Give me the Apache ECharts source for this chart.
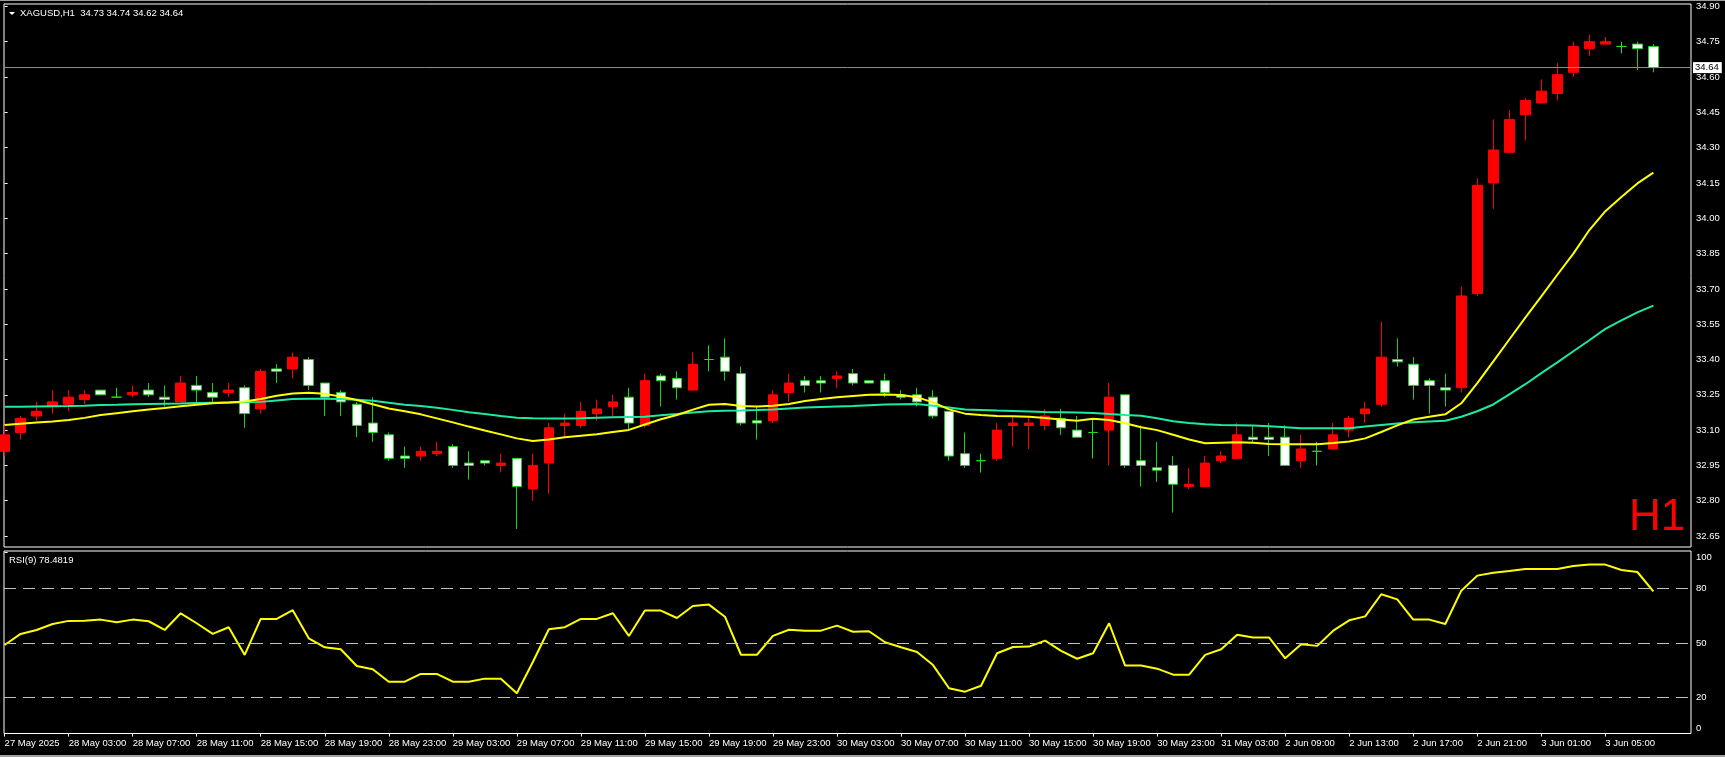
<!DOCTYPE html>
<html><head><meta charset="utf-8">
<script src="https://cdn.jsdelivr.net/npm/echarts@6/dist/echarts.min.js"></script>
<style>html,body{margin:0;padding:0;background:#000;overflow:hidden}#c{width:1725px;height:757px}</style>
</head><body><div id="c"></div>
<script>
// ---- data (bar index 0..103, H1 bars) ----
const opens = [33.01,33.09,33.16,33.20,33.21,33.23,33.27,33.24,33.25,33.27,
 33.24,33.22,33.29,33.26,33.26,33.28,33.19,33.36,33.36,33.40,
 33.30,33.26,33.21,33.13,33.08,32.99,32.99,33.00,33.03,32.96,
 32.97,32.95,32.98,32.85,32.96,33.12,33.12,33.17,33.20,33.24,
 33.12,33.33,33.32,33.27,33.40,33.41,33.34,33.14,33.14,33.26,
 33.31,33.31,33.32,33.34,33.31,33.31,33.25,33.25,33.24,33.18,
 33.00,32.97,32.98,33.12,33.12,33.12,33.15,33.10,33.09,33.10,
 33.25,32.97,32.94,32.95,32.86,32.86,32.97,32.98,33.07,33.07,
 33.07,32.97,33.01,33.02,33.10,33.17,33.21,33.40,33.38,33.31,
 33.28,33.28,33.68,34.15,34.28,34.44,34.49,34.53,34.62,34.72,
 34.74,34.73,34.74,34.73];
const closes = [33.08,33.15,33.18,33.22,33.24,33.25,33.25,33.24,33.26,33.25,
 33.23,33.30,33.27,33.24,33.27,33.17,33.35,33.35,33.41,33.29,
 33.24,33.22,33.12,33.09,32.98,32.98,33.01,33.01,32.95,32.95,
 32.96,32.96,32.86,32.95,33.11,33.13,33.18,33.19,33.22,33.13,
 33.31,33.31,33.28,33.38,33.40,33.35,33.13,33.13,33.25,33.30,
 33.29,33.30,33.33,33.30,33.30,33.26,33.24,33.22,33.16,32.99,
 32.95,32.97,33.10,33.13,33.13,33.16,33.11,33.07,33.09,33.24,
 32.95,32.95,32.93,32.87,32.87,32.96,32.99,33.08,33.06,33.06,
 32.95,33.02,33.01,33.08,33.15,33.19,33.41,33.39,33.29,33.29,
 33.27,33.67,34.14,34.29,34.42,34.50,34.54,34.61,34.73,34.75,
 34.75,34.73,34.72,34.64];
const lows = [32.99,33.06,33.14,33.17,33.18,33.21,33.25,33.24,33.24,33.24,
 33.20,33.22,33.21,33.22,33.24,33.11,33.17,33.30,33.32,33.27,
 33.16,33.16,33.07,33.05,32.97,32.94,32.97,32.99,32.94,32.89,
 32.95,32.92,32.68,32.80,32.83,33.07,33.11,33.14,33.16,33.10,
 33.11,33.20,33.23,33.27,33.35,33.31,33.12,33.06,33.13,33.22,
 33.26,33.26,33.28,33.29,33.30,33.24,33.23,33.20,33.15,32.97,
 32.94,32.92,32.97,33.03,33.02,33.10,33.08,33.07,32.98,32.95,
 32.94,32.86,32.88,32.75,32.85,32.86,32.96,32.98,33.05,32.99,
 32.95,32.94,32.95,33.02,33.07,33.13,33.20,33.37,33.23,33.17,
 33.20,33.26,33.67,34.04,34.28,34.33,34.49,34.50,34.60,34.69,
 34.74,34.70,34.63,34.62];
const highs = [33.12,33.16,33.22,33.27,33.27,33.27,33.27,33.28,33.29,33.30,
 33.29,33.33,33.33,33.30,33.30,33.29,33.36,33.38,33.43,33.41,
 33.30,33.27,33.22,33.24,33.09,33.03,33.03,33.05,33.04,33.01,
 32.97,33.00,32.98,33.00,33.13,33.17,33.22,33.23,33.25,33.28,
 33.34,33.34,33.35,33.43,33.46,33.49,33.37,33.20,33.27,33.34,
 33.33,33.33,33.35,33.36,33.31,33.34,33.27,33.28,33.27,33.18,
 33.09,33.00,33.13,33.16,33.16,33.19,33.19,33.16,33.15,33.30,
 33.25,33.12,33.05,32.99,32.94,32.99,33.01,33.13,33.12,33.13,
 33.12,33.08,33.05,33.13,33.16,33.22,33.56,33.49,33.41,33.32,
 33.34,33.71,34.17,34.42,34.46,34.51,34.59,34.66,34.75,34.78,
 34.77,34.75,34.75,34.74];
const maFast = [33.122,33.127,33.132,33.137,33.143,33.152,33.164,33.172,33.180,33.188,
 33.194,33.201,33.208,33.214,33.217,33.222,33.232,33.246,33.256,33.259,
 33.254,33.243,33.228,33.210,33.192,33.180,33.167,33.150,33.133,33.115,
 33.098,33.082,33.065,33.054,33.060,33.070,33.076,33.082,33.092,33.101,
 33.124,33.146,33.164,33.187,33.208,33.211,33.202,33.200,33.204,33.211,
 33.224,33.232,33.240,33.245,33.250,33.251,33.249,33.240,33.218,33.188,
 33.170,33.164,33.160,33.159,33.157,33.151,33.145,33.140,33.148,33.143,
 33.129,33.112,33.100,33.080,33.060,33.044,33.046,33.048,33.046,33.041,
 33.040,33.040,33.040,33.045,33.052,33.065,33.092,33.120,33.145,33.157,
 33.167,33.214,33.300,33.392,33.485,33.578,33.668,33.760,33.850,33.950,
 34.030,34.090,34.148,34.194];
const maSlow = [33.199,33.199,33.200,33.201,33.202,33.204,33.207,33.208,33.210,33.211,
 33.212,33.213,33.215,33.216,33.217,33.218,33.220,33.226,33.232,33.233,
 33.233,33.232,33.229,33.225,33.216,33.208,33.202,33.195,33.186,33.176,
 33.168,33.160,33.153,33.150,33.149,33.149,33.150,33.153,33.155,33.156,
 33.157,33.163,33.168,33.175,33.180,33.182,33.183,33.185,33.188,33.192,
 33.196,33.198,33.200,33.202,33.206,33.209,33.210,33.211,33.204,33.196,
 33.188,33.186,33.183,33.181,33.179,33.177,33.176,33.175,33.173,33.168,
 33.164,33.161,33.150,33.138,33.130,33.125,33.122,33.121,33.120,33.116,
 33.112,33.108,33.108,33.108,33.108,33.115,33.122,33.128,33.133,33.137,
 33.140,33.157,33.180,33.209,33.252,33.295,33.342,33.388,33.435,33.482,
 33.530,33.566,33.600,33.629];
const rsi9 = [48.9,55.0,57.2,60.5,62.2,62.3,62.9,61.4,62.9,62.0,
 57.2,66.4,60.9,55.0,58.7,43.4,63.3,63.3,68.1,52.6,
 47.6,46.5,37.3,35.5,28.6,28.6,32.9,32.9,28.6,28.6,
 30.3,30.3,22.2,39.5,57.6,58.7,63.3,63.3,66.4,53.9,
 67.9,67.9,63.8,70.4,71.2,64.5,43.5,43.5,53.9,57.3,
 56.8,56.8,59.6,56.2,56.5,50.4,47.6,45.0,37.8,25.0,
 23.1,26.4,44.3,47.8,48.0,51.3,45.6,41.3,44.3,60.9,
 37.5,37.5,35.8,32.5,32.5,43.4,46.5,54.6,53.0,53.0,
 41.5,49.3,48.4,56.8,62.5,64.7,76.9,74.1,62.9,62.9,
 60.5,78.9,87.2,88.8,89.7,90.9,90.9,90.9,92.5,93.3,
 93.3,90.3,89.2,78.48];
const xTickIndex = [0,4,8,12,16,20,24,28,32,36,40,44,48,52,56,60,64,68,72,76,80,84,88,92,96,100];
const xTickLabels = ['27 May 2025','28 May 03:00','28 May 07:00','28 May 11:00','28 May 15:00','28 May 19:00',
 '28 May 23:00','29 May 03:00','29 May 07:00','29 May 11:00','29 May 15:00','29 May 19:00','29 May 23:00',
 '30 May 03:00','30 May 07:00','30 May 11:00','30 May 15:00','30 May 19:00','30 May 23:00','31 May 03:00',
 '2 Jun 09:00','2 Jun 13:00','2 Jun 17:00','2 Jun 21:00','3 Jun 01:00','3 Jun 05:00'];
const priceTickLabels = ['32.65','32.80','32.95','33.10','33.25','33.40','33.55','33.70','33.85','34.00','34.15','34.30','34.45','34.60','34.75','34.90'];
const rsiTickLabels = ['0','20','50','80','100'];
const rsiLevels = [80,50,20];
const lastPrice = 34.64;
const headerText = 'XAGUSD,H1  34.73 34.74 34.62 34.64';
const rsiText = 'RSI(9) 78.4819';

// ---- build ----
const candleData = opens.map((o,i)=>[i,o,closes[i],lows[i],highs[i]]);
const fastData = maFast.map((v,i)=>[i,v]);
const slowData = maSlow.map((v,i)=>[i,v]);
const rsiData = rsi9.map((v,i)=>[i,v]);
const FONT = 'Liberation Sans, Arial, sans-serif';
const xMin = -0.0375, xMax = 105.35;

const chart = echarts.init(document.getElementById('c'), null, {renderer:'canvas'});
chart.setOption({
  backgroundColor:'#000000',
  animation:false,
  grid:[
    {left:4, top:4, width:1687, height:543, show:true, borderColor:'#ffffff', borderWidth:1, backgroundColor:'#000'},
    {left:4, top:551, width:1687, height:182.5, show:true, borderColor:'#ffffff', borderWidth:1, backgroundColor:'#000'}
  ],
  xAxis:[
    {type:'value', gridIndex:0, min:xMin, max:xMax, show:false},
    {type:'value', gridIndex:1, min:xMin, max:xMax,
      axisLine:{show:false}, splitLine:{show:false},
      axisTick:{show:true, customValues:xTickIndex, length:3, lineStyle:{color:'#ffffff'}},
      axisLabel:{show:true, customValues:xTickIndex, color:'#ffffff', fontSize:9.5, fontFamily:FONT, align:'left', margin:5,
        formatter:v=>xTickLabels[xTickIndex.indexOf(Math.round(v))] || ''}}
  ],
  yAxis:[
    {type:'value', gridIndex:0, position:'right', min:32.6035, max:34.9102, scale:true,
      axisLine:{show:false}, splitLine:{show:false},
      axisTick:{show:true, customValues:priceTickLabels.map(Number), length:3, lineStyle:{color:'#ffffff'}},
      axisLabel:{show:true, customValues:priceTickLabels.map(Number), color:'#ffffff', fontSize:9.5, fontFamily:FONT, margin:5,
        formatter:v=>v.toFixed(2)}},
    {type:'value', gridIndex:1, position:'right', min:0, max:100.8,
      axisLine:{show:false}, splitLine:{show:false},
      axisTick:{show:true, customValues:rsiTickLabels.map(Number), length:3, lineStyle:{color:'#ffffff'}},
      axisLabel:{show:true, customValues:rsiTickLabels.map(Number), color:'#ffffff', fontSize:9.5, fontFamily:FONT, margin:5,
        verticalAlignMinLabel:'bottom', verticalAlignMaxLabel:'top',
        formatter:v=>String(Math.round(v))}}
  ],
  series:[
    {type:'candlestick', xAxisIndex:0, yAxisIndex:0, data:candleData, barWidth:10, clip:true, z:2,
      itemStyle:{color:'#ff0000', color0:'#ffffff', borderColor:'#ff0000', borderColor0:'#22cc22', borderColorDoji:'#22dd22', borderWidth:1},
      emphasis:{disabled:true},
      markLine:{silent:true, symbol:['none','none'], animation:false,
        lineStyle:{color:'#8c8c8c', type:'solid', width:1},
        label:{show:true, position:'end', formatter:lastPrice.toFixed(2), color:'#000', backgroundColor:'#ffffff',
          fontSize:9.5, fontFamily:FONT, padding:[1,3,0,2], distance:2},
        data:[{yAxis:lastPrice}]}},
    {type:'line', xAxisIndex:0, yAxisIndex:0, data:slowData, showSymbol:false, z:3,
      lineStyle:{color:'#1de9a0', width:2}, emphasis:{disabled:true}},
    {type:'line', xAxisIndex:0, yAxisIndex:0, data:fastData, showSymbol:false, z:4,
      lineStyle:{color:'#ffff00', width:2}, emphasis:{disabled:true}},
    {type:'line', xAxisIndex:1, yAxisIndex:1, data:rsiData, showSymbol:false, z:4,
      lineStyle:{color:'#ffff00', width:2}, emphasis:{disabled:true},
      markLine:{silent:true, symbol:['none','none'], animation:false,
        lineStyle:{color:'#c0c0c0', type:[12,7], width:1}, label:{show:false},
        data:rsiLevels.map(v=>({yAxis:v}))}}
  ],
  graphic:[
    {type:'rect', shape:{x:0,y:0,width:1725,height:1}, style:{fill:'#9a9a9a'}, silent:true},
    {type:'rect', shape:{x:0,y:755,width:1725,height:2}, style:{fill:'#a0a0a0'}, silent:true},
    {type:'polygon', shape:{points:[[9,12],[15,12],[12,15]]}, style:{fill:'#ffffff'}, silent:true},
    {type:'text', style:{x:20, y:13, text:headerText, fill:'#ffffff', font:'9.5px '+FONT, verticalAlign:'middle'}, silent:true},
    {type:'text', style:{x:9, y:560, text:rsiText, fill:'#ffffff', font:'9.5px '+FONT, verticalAlign:'middle'}, silent:true},
    {type:'text', style:{x:1629, y:518, text:'H1', fill:'#ff0000', font:'44px '+FONT, verticalAlign:'middle'}, silent:true}
  ]
});
</script></body></html>
